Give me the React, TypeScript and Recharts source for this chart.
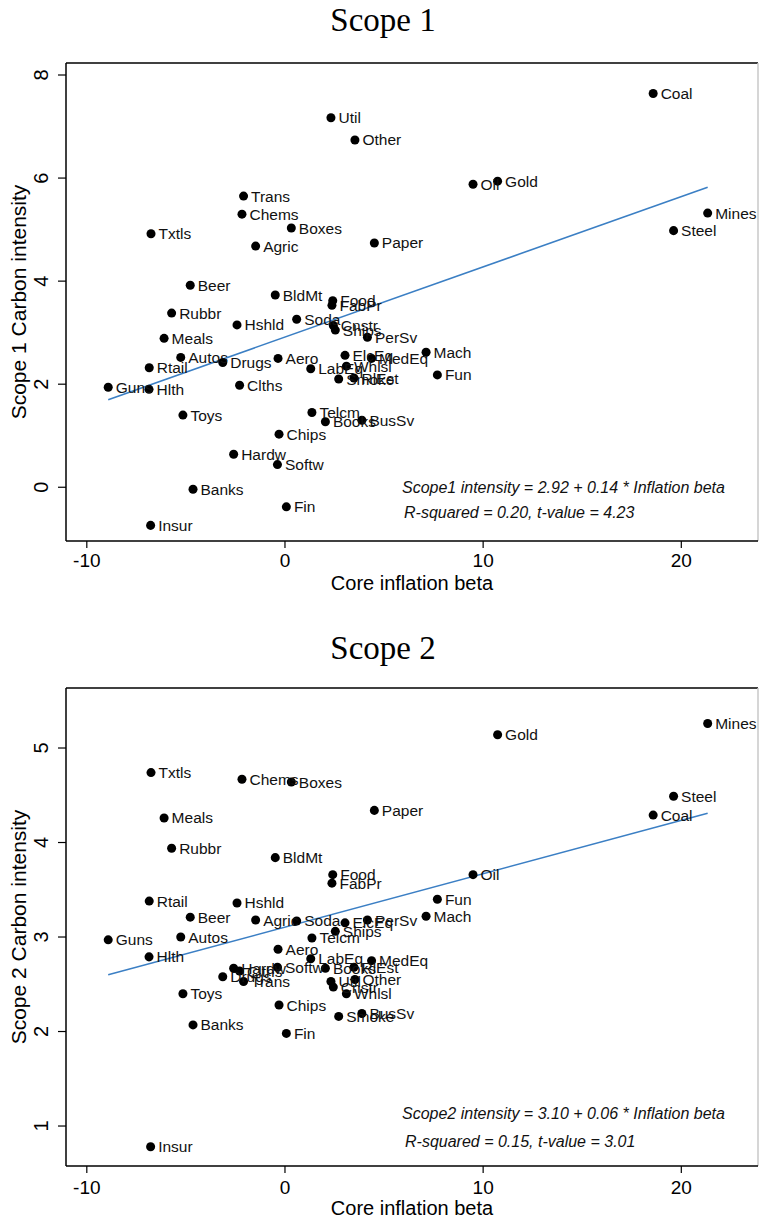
import React from 'react';
import {
  ScatterChart,
  Scatter,
  XAxis,
  YAxis,
  ZAxis,
  LabelList,
  ReferenceLine,
} from 'recharts';

// Fama-French 49 industries
const industries = [
  'Agric', 'Food', 'Soda', 'Beer', 'Smoke', 'Toys', 'Fun', 'Books', 'Hshld', 'Clths',
  'Hlth', 'MedEq', 'Drugs', 'Chems', 'Rubbr', 'Txtls', 'BldMt', 'Cnstr', 'Steel', 'FabPr',
  'Mach', 'ElcEq', 'Autos', 'Aero', 'Ships', 'Guns', 'Gold', 'Mines', 'Coal', 'Oil',
  'Util', 'Telcm', 'PerSv', 'BusSv', 'Hardw', 'Softw', 'Chips', 'LabEq', 'Paper', 'Boxes',
  'Trans', 'Whlsl', 'Rtail', 'Meals', 'Banks', 'Insur', 'RlEst', 'Fin', 'Other',
];

const inflationBeta = [
  -1.48, 2.41, 0.59, -4.78, 2.71, -5.15, 7.69, 2.04, -2.42, -2.29,
  -6.86, 4.37, -3.14, -2.17, -5.72, -6.76, -0.49, 2.44, 19.61, 2.37,
  7.12, 3.03, -5.26, -0.35, 2.54, -8.92, 10.73, 21.33, 18.58, 9.49,
  2.32, 1.36, 4.16, 3.88, -2.59, -0.38, -0.3, 1.3, 4.51, 0.32,
  -2.09, 3.1, -6.85, -6.1, -4.64, -6.78, 3.48, 0.07, 3.53,
];

const scope1Intensity = [
  4.68, 3.62, 3.26, 3.92, 2.1, 1.4, 2.18, 1.27, 3.15, 1.98,
  1.9, 2.5, 2.42, 5.3, 3.38, 4.92, 3.73, 3.14, 4.98, 3.53,
  2.62, 2.56, 2.52, 2.5, 3.05, 1.94, 5.94, 5.32, 7.64, 5.88,
  7.17, 1.45, 2.91, 1.3, 0.64, 0.44, 1.03, 2.3, 4.74, 5.03,
  5.65, 2.35, 2.32, 2.89, -0.04, -0.74, 2.12, -0.38, 6.74,
];

const scope2Intensity = [
  3.18, 3.66, 3.17, 3.21, 2.16, 2.4, 3.4, 2.67, 3.36, 2.64,
  2.79, 2.75, 2.58, 4.67, 3.94, 4.74, 3.84, 2.47, 4.49, 3.57,
  3.22, 3.15, 3.0, 2.87, 3.06, 2.97, 5.14, 5.26, 4.29, 3.66,
  2.53, 2.99, 3.18, 2.19, 2.67, 2.68, 2.28, 2.77, 4.34, 4.64,
  2.53, 2.4, 3.38, 4.26, 2.07, 0.78, 2.68, 1.98, 2.55,
];

const xTicks = [-10, 0, 10, 20];
const scope1Ticks = [0, 2, 4, 6, 8];
const scope2Ticks = [1, 2, 3, 4, 5];

// fitted line end points (min / max beta)
const fitX = [-8.92, 21.33];
const scope1Fit = [1.7, 5.82];
const scope2Fit = [2.6, 4.31];

const xDomain: [number, number] = [-11.05, 23.87];

const SANS = '"Liberation Sans", Arial, Helvetica, sans-serif';
const SERIF = '"Liberation Serif", "Times New Roman", serif';
const FIT_COLOR = '#3b7fc4';

const scope1Data = industries.map((name, i) => ({ name, x: inflationBeta[i], y: scope1Intensity[i] }));
const scope2Data = industries.map((name, i) => ({ name, x: inflationBeta[i], y: scope2Intensity[i] }));

const YTick = ({ x, y, payload }: any) => (
  <text
    transform={`translate(${x - 8},${y}) rotate(-90)`}
    textAnchor="middle"
    fontSize={20}
    fill="#000"
    fontFamily={SANS}
  >
    {payload.value}
  </text>
);

interface PanelProps {
  data: { name: string; x: number; y: number }[];
  yDomain: [number, number];
  yTicks: number[];
  yLabel: string;
  fit: number[];
  top: number;
  height: number;
  marginTop: number;
  xAxisHeight: number;
  tickMargin: number;
  labelOffset: number;
}

function Panel({ data, yDomain, yTicks, yLabel, fit, top, height, marginTop, xAxisHeight, tickMargin, labelOffset }: PanelProps) {
  return (
    <div style={{ position: 'absolute', left: 0, top, fontFamily: SANS }}>
      <ScatterChart
        width={759}
        height={height}
        margin={{ top: marginTop, right: 1, bottom: 3, left: 0 }}
      >
        <XAxis
          type="number"
          dataKey="x"
          domain={xDomain}
          ticks={xTicks}
          allowDataOverflow
          height={xAxisHeight}
          tickSize={7}
          tickMargin={tickMargin}
          axisLine={{ stroke: '#000', strokeWidth: 1.5 }}
          tickLine={{ stroke: '#000', strokeWidth: 1.2 }}
          tick={{ fontSize: 19, fill: '#000' }}
          label={{
            value: 'Core inflation beta',
            position: 'insideBottom',
            offset: labelOffset,
            style: { fontSize: 20, fill: '#000' },
          }}
        />
        <YAxis
          type="number"
          dataKey="y"
          domain={yDomain}
          ticks={yTicks}
          allowDataOverflow
          width={66}
          tickSize={8}
          axisLine={{ stroke: '#000', strokeWidth: 1.5 }}
          tickLine={{ stroke: '#000', strokeWidth: 1.2 }}
          tick={<YTick />}
          label={{
            value: yLabel,
            angle: -90,
            position: 'insideLeft',
            offset: 19,
            style: { textAnchor: 'middle', fontSize: 21, fill: '#000' },
          }}
        />
        <ZAxis range={[40, 40]} />
        <ReferenceLine y={yDomain[1]} stroke="#000" strokeWidth={1.5} />
        <ReferenceLine x={xDomain[1]} stroke="#c8c8c8" strokeWidth={1.5} />
        <Scatter data={data} fill="#000" isAnimationActive={false}>
          <LabelList dataKey="name" position="right" offset={3} fontSize={15.5} fill="#111" />
        </Scatter>
        <ReferenceLine
          segment={[
            { x: fitX[0], y: fit[0] },
            { x: fitX[1], y: fit[1] },
          ]}
          stroke={FIT_COLOR}
          strokeWidth={1.6}
        />
      </ScatterChart>
    </div>
  );
}

export default function App() {
  return (
    <div style={{ position: 'absolute', left: 0, top: 0, width: 759, height: 1219, background: '#fff' }}>
      <Panel
        data={scope1Data}
        yDomain={[-1.043, 8.233]}
        yTicks={scope1Ticks}
        yLabel="Scope 1 Carbon intensity"
        fit={scope1Fit}
        top={0}
        height={600}
        marginTop={63}
        xAxisHeight={56}
        tickMargin={6}
        labelOffset={7}
      />
      <Panel
        data={scope2Data}
        yDomain={[0.577, 5.635]}
        yTicks={scope2Ticks}
        yLabel="Scope 2 Carbon intensity"
        fit={scope2Fit}
        top={620}
        height={599}
        marginTop={68}
        xAxisHeight={50}
        tickMargin={8}
        labelOffset={1}
      />
      <svg
        width={759}
        height={1219}
        style={{ position: 'absolute', left: 0, top: 0, pointerEvents: 'none' }}
      >
        <text x={383} y={30.5} textAnchor="middle" fontFamily={SERIF} fontSize={33} fill="#000">
          Scope 1
        </text>
        <text x={383} y={659} textAnchor="middle" fontFamily={SERIF} fontSize={33} fill="#000">
          Scope 2
        </text>
        <g fontFamily={SANS} fontSize={16} fontStyle="italic" fill="#111">
          <text x={402} y={493.4}>Scope1 intensity = 2.92 + 0.14 * Inflation beta</text>
          <text x={404} y={518}>R-squared = 0.20, t-value = 4.23</text>
          <text x={402} y={1119}>Scope2 intensity = 3.10 + 0.06 * Inflation beta</text>
          <text x={405} y={1147}>R-squared = 0.15, t-value = 3.01</text>
        </g>
      </svg>
    </div>
  );
}
